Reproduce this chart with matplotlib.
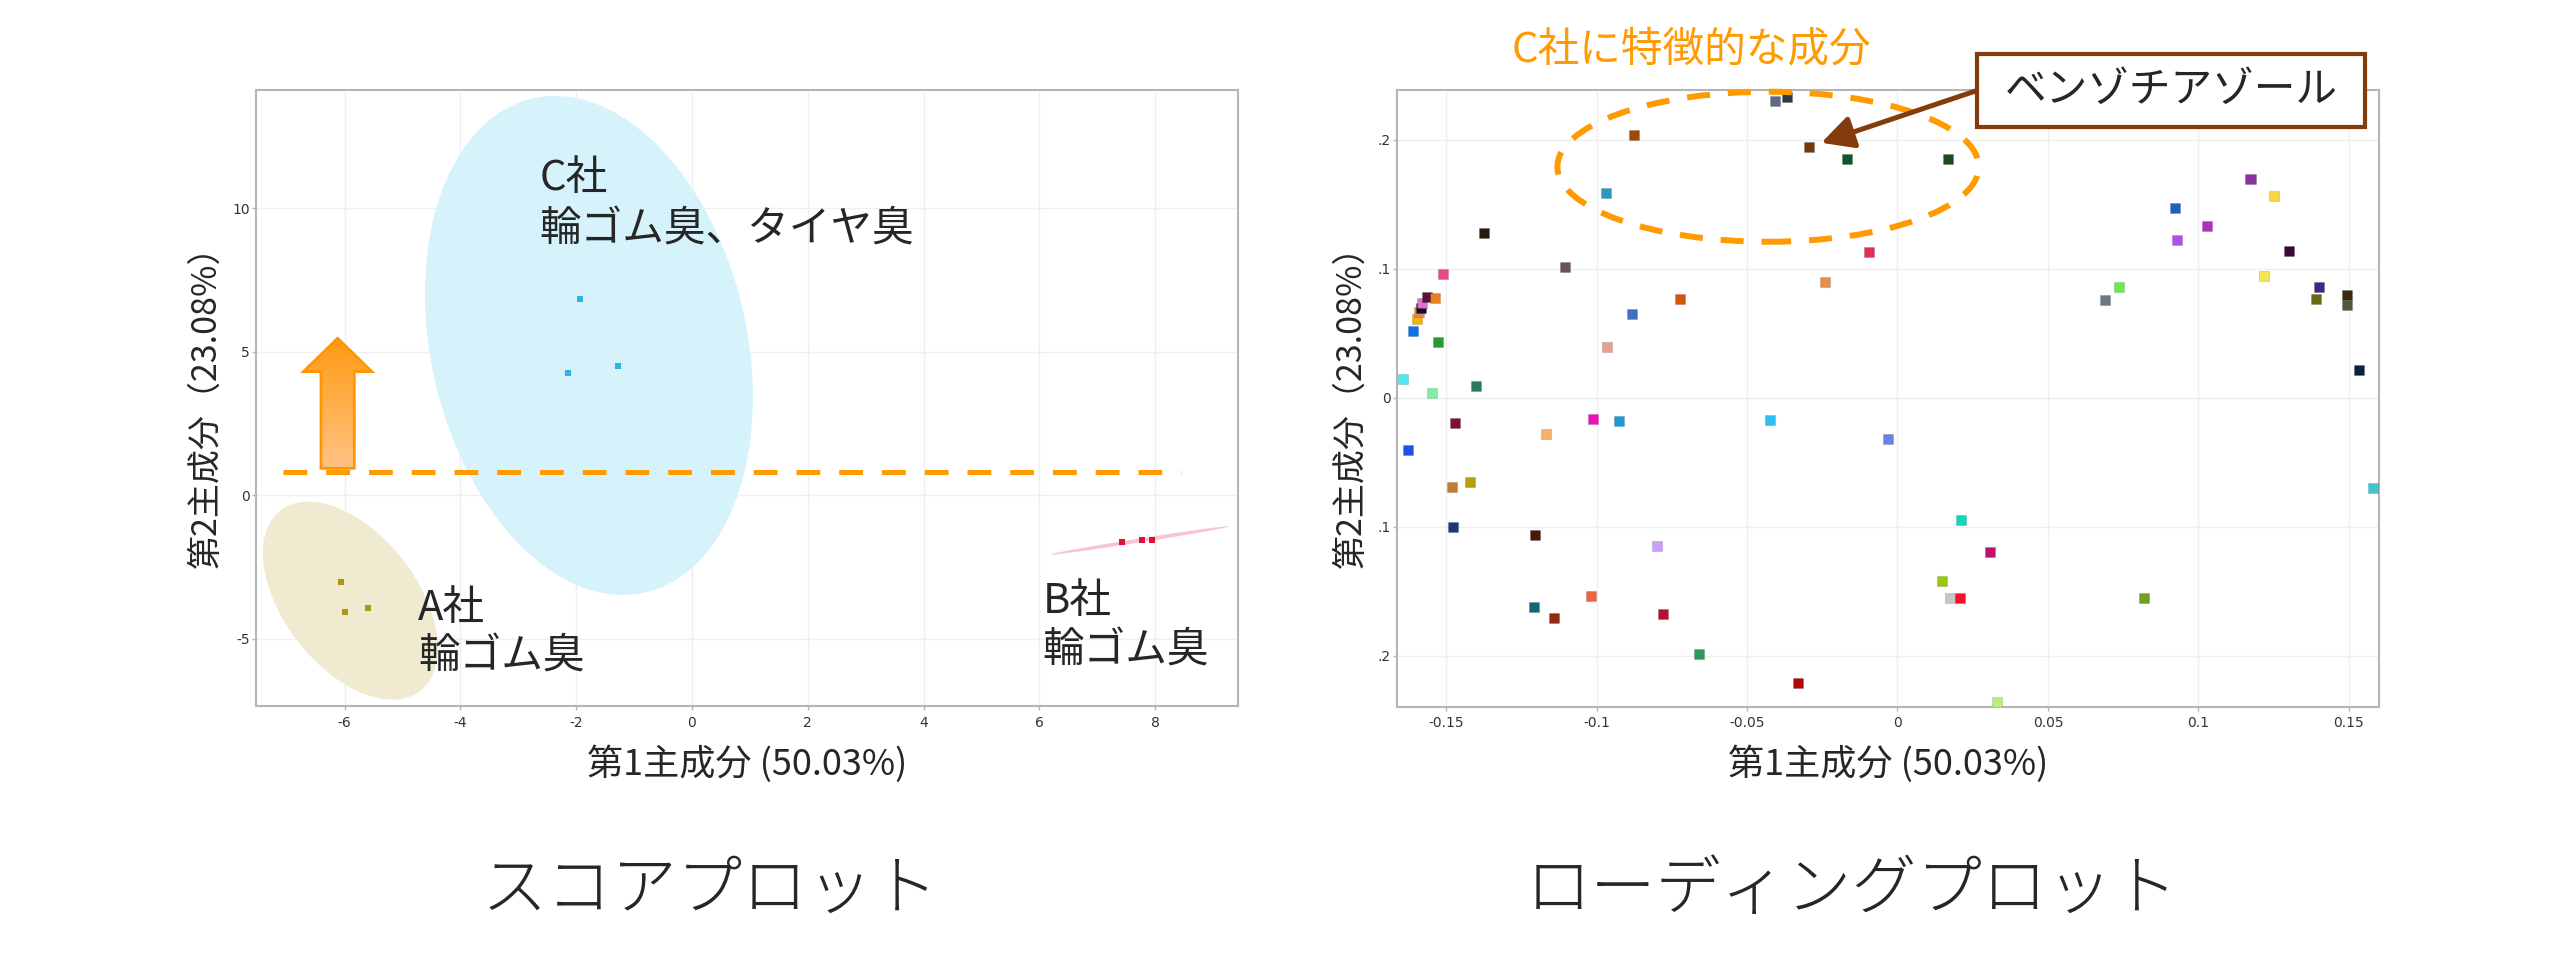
import numpy as np
import matplotlib
matplotlib.use('Agg')
import matplotlib.pyplot as plt
from matplotlib import font_manager
from matplotlib.patches import Polygon, Ellipse, Rectangle
from matplotlib.colors import LinearSegmentedColormap

plt.rcParams['font.family'] = ['Noto Sans CJK JP', 'DejaVu Sans']
_names = {f.name for f in font_manager.fontManager.ttflist}
TICK_FONT = ['Liberation Sans Narrow', 'DejaVu Sans'] if 'Liberation Sans Narrow' in _names else ['DejaVu Sans']

# ======================= DATA =======================
# --- score plot: PC1 / PC2 scores of 3 samples per company ---
score_pc1_A = [-6.07, -5.99, -5.60]
score_pc2_A = [-3.02, -4.08, -3.92]
score_pc1_B = [7.43, 7.78, 7.94]
score_pc2_B = [-1.63, -1.55, -1.55]
score_pc1_C = [-1.93, -2.15, -1.28]
score_pc2_C = [6.85, 4.25, 4.50]

# confidence ellipses: centre and covariance (data units)
ellipse_A_center = [-5.90, -3.67]
ellipse_A_cov = [[2.28, -2.50], [-2.50, 11.90]]
ellipse_B_center = [7.74, -1.57]
ellipse_B_cov = [[2.362, 0.7497], [0.7497, 0.2429]]
ellipse_C_center = [-1.78, 5.22]
ellipse_C_cov = [[8.02, -5.11], [-5.11, 75.57]]

score_labels = ['A社\n輪ゴム臭', 'B社\n輪ゴム臭', 'C社\n輪ゴム臭、タイヤ臭']
score_label_xy = [(-4.73, -3.93, -5.63), (6.06, -3.69, -5.41), (-2.64, 11.02, 9.24)]

threshold_pc2 = 0.82
threshold_x = [-7.07, 8.45]
arrow_x = -6.12
arrow_y = [0.94, 4.31, 5.47]          # base, head base, tip

score_xticks = [-6, -4, -2, 0, 2, 4, 6, 8]
score_xticklabels = ['-6', '-4', '-2', '0', '2', '4', '6', '8']
score_yticks = [-5, 0, 5, 10]
score_yticklabels = ['-5', '0', '5', '10']

# --- loading plot: PC1 / PC2 loadings of each compound ---
loading_pc1 = [
    -0.0407, -0.0368, -0.0874, -0.0295, -0.0168, -0.0969, -0.1374, -0.1105, -0.1511, -0.0096,
    -0.0240, -0.0723, -0.0882, -0.0966, -0.1527, -0.1611, -0.1598, -0.1591, -0.1584, -0.1580,
    -0.1564, -0.1536, -0.1642, -0.1548, -0.1399,
    0.0169, 0.0921, 0.0930, 0.1030, 0.1173, 0.1252, 0.1302, 0.1217, 0.1399, 0.1390,
    0.1495, 0.1493, 0.0735, 0.0690, 0.1533,
    -0.1470, -0.1625, -0.1167, -0.1013, -0.0926, -0.0424, -0.0030, -0.1480, -0.1419, -0.1478,
    -0.1204, -0.0799, -0.1019, -0.1208, -0.1142, -0.0780, -0.0661, -0.0330,
    0.0210, 0.0306, 0.0149, 0.0173, 0.0208, 0.0819, 0.0331, 0.1580]
loading_pc2 = [
    0.2298, 0.2332, 0.2033, 0.1942, 0.1851, 0.1583, 0.1278, 0.1012, 0.0957, 0.1128,
    0.0895, 0.0764, 0.0647, 0.0391, 0.0430, 0.0518, 0.0611, 0.0660, 0.0691, 0.0730,
    0.0777, 0.0769, 0.0141, 0.0033, 0.0087,
    0.1851, 0.1467, 0.1221, 0.1329, 0.1691, 0.1565, 0.1136, 0.0942, 0.0859, 0.0766,
    0.0795, 0.0715, 0.0854, 0.0753, 0.0216,
    -0.0198, -0.0407, -0.0283, -0.0169, -0.0180, -0.0172, -0.0319, -0.0696, -0.0655, -0.1001,
    -0.1064, -0.1151, -0.1539, -0.1624, -0.1707, -0.1676, -0.1986, -0.2211,
    -0.0950, -0.1195, -0.1425, -0.1552, -0.1557, -0.1554, -0.2358, -0.0702]
loading_colors = [
    '#5B6B88', '#2E3B44', '#A0480A', '#7A3A08', '#0B5A2E', '#2A9AC0', '#2A1A0A', '#6A5555', '#E84888', '#E0305A',
    '#E8904A', '#D45508', '#4070C0', '#E8A090', '#2A9A30', '#1070E8', '#F0B800', '#F08060', '#101020', '#E070D0',
    '#5A1040', '#E88020', '#50E8F0', '#80F0A0', '#2A7A60',
    '#1E4A1E', '#2060B8', '#B050E8', '#B030C0', '#9030A0', '#F8D840', '#3A0838', '#F0E850', '#402880', '#686810',
    '#3A2A10', '#505A38', '#70E850', '#707880', '#0A2040',
    '#801030', '#2050E8', '#F8B070', '#F010B8', '#2098D8', '#30C0F0', '#6A80E8', '#C08030', '#B8A008', '#1A3A70',
    '#4A1808', '#C8A0F8', '#F06048', '#106878', '#902A10', '#B01038', '#2A9A60', '#B00808',
    '#10D8B8', '#C01070', '#98C808', '#C8C8C8', '#F81030', '#70A020', '#B8F078', '#40C8C8']
benzothiazole_index = 3

# C-company characteristic region (ellipse: centre, width, height)
c_region = [-0.0430, 0.1789, 0.140, 0.1163]

load_xticks = [-0.15, -0.1, -0.05, 0, 0.05, 0.1, 0.15]
load_xticklabels = ['-0.15', '-0.1', '-0.05', '0', '0.05', '0.1', '0.15']
load_yticks = [-0.2, -0.1, 0, 0.1, 0.2]
load_yticklabels = ['.2', '.1', '0', '.1', '.2']

# ======================= FIGURE =======================
W, H = 2560, 960
fig = plt.figure(figsize=(W / 100, H / 100), dpi=100)
fig.patch.set_facecolor('white')

ORANGE = '#FF9A00'
BROWN = '#843C0C'
TXT = '#262626'
SPINE = '#B5B5B5'

ax1 = fig.add_axes([256 / W, 1 - 706 / H, 982 / W, 616 / H])
ax2 = fig.add_axes([1397 / W, 1 - 706.5 / H, 982 / W, 616.5 / H])


def style(ax, xt, xtl, yt, ytl, ylabel, xlabel, ylab_x):
    ax.set_xticks(xt)
    ax.set_xticklabels(xtl, fontfamily=TICK_FONT)
    ax.set_yticks(yt)
    ax.set_yticklabels(ytl, fontfamily=TICK_FONT)
    for s in ax.spines.values():
        s.set_color(SPINE)
        s.set_linewidth(1.5)
    ax.grid(True, color='#EFEFEF', lw=1.0)
    ax.set_axisbelow(True)
    ax.tick_params(direction='out', length=3, width=1, color=SPINE,
                   labelsize=10, labelcolor='#333333')
    ax.tick_params(axis='x', pad=4)
    ax.tick_params(axis='y', pad=1.5)
    ax.set_ylabel(ylabel, fontsize=24.5, color=TXT, va='center')
    ax.yaxis.set_label_coords(ylab_x, 0.5)
    ax.set_xlabel(xlabel, fontsize=26, color=TXT, va='center')
    ax.xaxis.set_label_coords(0.5, -(764 - 706) / 616)


def ellipse_points(center, cov, n=300):
    t = np.linspace(0, 2 * np.pi, n)
    L = np.linalg.cholesky(np.array(cov))
    pts = L @ np.vstack([np.cos(t), np.sin(t)])
    return np.array(center)[:, None] + pts


# ---------------- score plot ----------------
for center, cov, fc in [(ellipse_C_center, ellipse_C_cov, '#D6F3FC'),
                        (ellipse_A_center, ellipse_A_cov, '#EFEAD0'),
                        (ellipse_B_center, ellipse_B_cov, '#F9C4D2')]:
    p = ellipse_points(center, cov)
    ax1.fill(p[0], p[1], color=fc, lw=0, zorder=1)

ax1.scatter(score_pc1_A, score_pc2_A, marker='s', s=20, color='#A89A10', lw=0, zorder=3)
ax1.scatter(score_pc1_B, score_pc2_B, marker='s', s=20, color='#DC1438', lw=0, zorder=3)
ax1.scatter(score_pc1_C, score_pc2_C, marker='s', s=20, color='#2BB5E3', lw=0, zorder=3)

ax1.plot(threshold_x, [threshold_pc2, threshold_pc2], color=ORANGE, lw=3.6,
         ls=(0, (4.75, 3.8)), dash_capstyle='butt', zorder=4)

# gradient block arrow
hw, sw = 0.59, 0.288
y0, yh, yt = arrow_y
verts = [(arrow_x - sw, y0), (arrow_x + sw, y0), (arrow_x + sw, yh), (arrow_x + hw, yh),
         (arrow_x, yt), (arrow_x - hw, yh), (arrow_x - sw, yh)]
poly = Polygon(verts, closed=True, facecolor='none', edgecolor='#FF9500', lw=2, zorder=6)
ax1.add_patch(poly)
grad = np.linspace(0, 1, 256).reshape(-1, 1)
cmap = LinearSegmentedColormap.from_list('g', ['#FFC283', '#FF9A12'])
im = ax1.imshow(grad, extent=[arrow_x - hw, arrow_x + hw, y0, yt], origin='lower',
                cmap=cmap, aspect='auto', zorder=5, interpolation='bilinear')
im.set_clip_path(poly)

for lab, (lx, ly1, ly2) in zip(score_labels, score_label_xy):
    l1, l2 = lab.split('\n')
    ax1.text(lx, ly1, l1, fontsize=30, color=TXT, ha='left', va='center', zorder=7)
    ax1.text(lx, ly2, l2, fontsize=30, color=TXT, ha='left', va='center', zorder=7)

ax1.set_xlim(-7.53, 9.43)
ax1.set_ylim(-7.34, 14.12)
style(ax1, score_xticks, score_xticklabels, score_yticks, score_yticklabels,
      '第2主成分（23.08%）', '第1主成分 (50.03%)', (206 - 256) / 982)

# ---------------- loading plot ----------------
ax2.scatter(loading_pc1, loading_pc2, marker='s', s=52, c=loading_colors,
            edgecolors=(0, 0, 0, 0.12), linewidths=0.8, zorder=3)

cx, cy, cw, ch = c_region
ax2.add_patch(Ellipse((cx, cy), cw, ch, fill=False, edgecolor=ORANGE, lw=4.3,
                      ls=(0, (3.86, 3.0)), clip_on=False, zorder=4))

ax2.set_xlim(-0.1663, 0.1600)
ax2.set_ylim(-0.2395, 0.2384)
style(ax2, load_xticks, load_xticklabels, load_yticks, load_yticklabels,
      '第2主成分（23.08%）', '第1主成分 (50.03%)', (1351 - 1397) / 982)

ax2.annotate('', xy=(loading_pc1[benzothiazole_index], loading_pc2[benzothiazole_index]),
             xycoords='data', xytext=(1977 / W, 1 - 90.5 / H), textcoords='figure fraction',
             arrowprops=dict(arrowstyle='-|>,head_length=0.97,head_width=0.5', mutation_scale=20,
                             color=BROWN, lw=3.6, shrinkA=0, shrinkB=9.6),
             annotation_clip=False, zorder=8)

fig.add_artist(Rectangle((1977 / W, 1 - 127 / H), 388 / W, 73 / H, transform=fig.transFigure,
                         facecolor='white', edgecolor=BROWN, lw=3, zorder=10))
fig.text(2171 / W, 1 - 90.5 / H, 'ベンゾチアゾール', fontsize=30, color=TXT,
         ha='center', va='center', zorder=11)
fig.text(1691 / W, 1 - 50 / H, 'C社に特徴的な成分', fontsize=30, color=ORANGE,
         ha='center', va='center', zorder=11)

# ---------------- titles ----------------
fig.text(710 / W, 1 - 891 / H, 'スコアプロット', fontsize=47, color=TXT, ha='center',
         va='center', fontweight='light')
fig.text(1852 / W, 1 - 891 / H, 'ローディングプロット', fontsize=47, color=TXT, ha='center',
         va='center', fontweight='light')

fig.savefig('out.png', dpi=100, facecolor='white')
